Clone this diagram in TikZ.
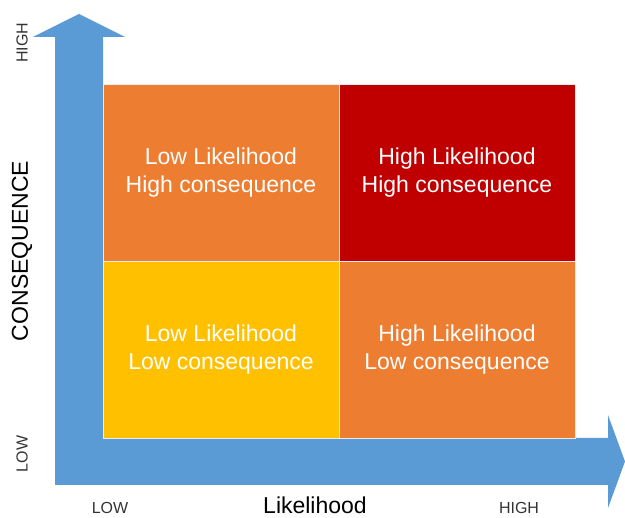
\documentclass[tikz,border=0pt]{standalone}
\usepackage{fontspec}
\setmainfont{Liberation Sans}
\usetikzlibrary{positioning}

\definecolor{axisblue}{RGB}{91,155,213}
\definecolor{riskorange}{RGB}{237,125,49}
\definecolor{riskred}{RGB}{192,0,0}
\definecolor{riskyellow}{RGB}{255,192,0}

\begin{document}
\begin{tikzpicture}[
    x=1pt, y=-1pt,
    node distance=236pt and 177pt,
    on grid,
    quad/.style={minimum width=236pt, minimum height=177pt, inner sep=0pt, draw=white!92!black, line width=0.6pt, text=white, align=center, font=\fontsize{23}{28}\selectfont},
    tick/.style={font=\fontsize{16}{18}\selectfont, text=black!80},
    axlabel/.style={font=\fontsize{23}{25}\selectfont, text=black, inner sep=1pt}
]
   \useasboundingbox (0,0) rectangle (625,518);

   % Axes
   \coordinate (origin) at (55,485);
   \fill[axisblue] (origin) -- (55,37) -- (33,37) -- (79,14) -- (125,37) -- (103,37)
      -- (103,438) -- (608,438) -- (608,415) -- (625,461.5) -- (608,508) -- (608,485) -- cycle;

   % Quadrants
   \node[quad, fill=riskyellow] (lowlow) at (221,350) {Low Likelihood\\Low consequence};
   \node[quad, fill=riskorange] (lowhigh) [above=177pt of lowlow] {Low Likelihood\\High consequence};
   \node[quad, fill=riskorange] (highlow) [right=236pt of lowlow] {High Likelihood\\Low consequence};
   \node[quad, fill=riskred] (highhigh) [right=236pt of lowhigh] {High Likelihood\\High consequence};

   % Labels
   \node[tick, rotate=90] (yhigh) at (22,43) {HIGH};
   \node[tick, rotate=90] (ylow) at (22,454) {LOW};
   \node[axlabel, rotate=90] (ylabel) at (22,251) {CONSEQUENCE};
   \node[tick] (xlow) at (110,508) {LOW};
   \node[tick] (xhigh) at (519,508) {HIGH};
   \node[axlabel] (xlabel) at (315,505) {Likelihood};
\end{tikzpicture}
\end{document}
